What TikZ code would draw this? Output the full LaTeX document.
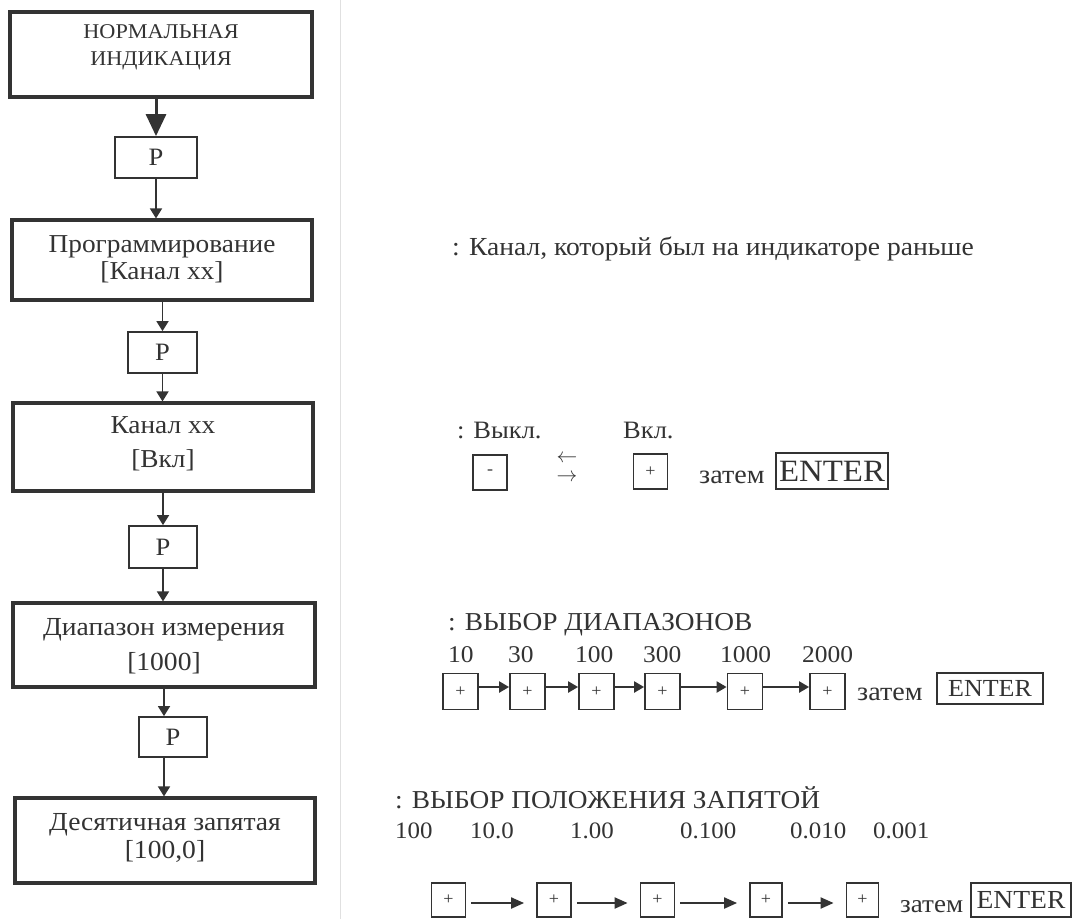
\documentclass[tikz,border=0pt]{standalone}
\usepackage{fontspec}
\setmainfont{Liberation Serif}[FakeStretch=1.06]
\usetikzlibrary{arrows.meta}
\definecolor{ink}{HTML}{333333}
\begin{document}
\begin{tikzpicture}[x=1pt,y=-1pt,
  bigbox/.style={draw=ink, line width=3.2pt, inner sep=0pt},
  pbox/.style={draw=ink, line width=1.8pt, inner sep=0pt, font=\fontsize{25}{30}\selectfont, text=ink},
  txt/.style={text=ink, inner sep=0pt, align=center},
  rtxt/.style={text=ink, inner sep=0pt, anchor=base west},
  arr/.style={draw=ink, line width=1.8pt, -{Triangle[length=10pt,width=12pt]}},
  bigarr/.style={draw=ink, line width=3pt, -{Triangle[length=22pt,width=20pt]}},
  key/.style={draw=ink, line width=1.8pt, inner sep=0pt, minimum width=35pt, minimum height=36pt, font=\fontsize{17}{20}\selectfont, text=ink},
  entbox/.style={draw=ink, line width=1.6pt, inner sep=0pt, text=ink},
  harr/.style={draw=ink, line width=2.2pt, -{Triangle[length=10pt,width=11pt]}},
  darr/.style={draw=ink, line width=2pt, shorten <=5pt, shorten >=12pt, -{Triangle[length=13pt,width=11pt]}},
]
\useasboundingbox[fill=white] (0,0) rectangle (1073,919);
\draw[black!12, line width=1pt] (340,0) -- (340,919);

% left column
\node[bigbox, minimum width=302pt, minimum height=85pt] (n1) at (161,54.5) {};
\node[txt, anchor=base, font=\fontsize{21}{27}\selectfont] (t1) at (161,65) {НОРМАЛЬНАЯ\\ИНДИКАЦИЯ};
\node[pbox, minimum width=82pt, minimum height=41pt] (p1) at (156,157.5) {P};
\node[bigbox, minimum width=300pt, minimum height=80pt] (n2) at (162,260) {};
\node[txt, anchor=base, font=\fontsize{25.8}{27}\selectfont] (t2) at (162,279) {Программирование\\{[Канал xx]}};
\node[pbox, minimum width=69pt, minimum height=41pt] (p2) at (162.5,352.5) {P};
\node[bigbox, minimum width=300pt, minimum height=88pt] (n3) at (163,447) {};
\node[txt, anchor=base, font=\fontsize{25.8}{34}\selectfont] (t3) at (163,467) {Канал xx\\{[Вкл]}};
\node[pbox, minimum width=68pt, minimum height=42pt] (p3) at (163,547) {P};
\node[bigbox, minimum width=302pt, minimum height=84pt] (n4) at (164,645) {};
\node[txt, anchor=base, font=\fontsize{26}{35}\selectfont] (t4) at (164,670) {Диапазон измерения\\{[1000]}};
\node[pbox, minimum width=68pt, minimum height=40pt] (p4) at (173,737) {P};
\node[bigbox, minimum width=300pt, minimum height=85pt] (n5) at (165,840.5) {};
\node[txt, anchor=base, font=\fontsize{26}{28}\selectfont] (t5) at (165,858) {Десятичная запятая\\{[100,0]}};

\draw[bigarr] (n1.south -| p1.north) -- (p1.north);
\draw[arr] (p1.south) -- (p1.south |- n2.north);
\draw[arr] (n2.south -| p2.north) -- (p2.north);
\draw[arr] (p2.south) -- (p2.south |- n3.north);
\draw[arr] (n3.south -| p3.north) -- (p3.north);
\draw[arr] (p3.south) -- (p3.south |- n4.north);
\draw[arr] (n4.south) -- (n4.south |- p4.north);
\draw[arr] (p4.south -| n4.south) -- (n5.north -| n4.south);

% channel note
\node[rtxt, font=\fontsize{26}{30}\selectfont] (r1) at (452,255) {: Канал, который был на индикаторе раньше};

% on/off
\node[rtxt, font=\fontsize{25}{25}\selectfont] (off) at (457,438) {: Выкл.};
\node[rtxt, font=\fontsize{25}{25}\selectfont] (on) at (623,438) {Вкл.};
\node[key, minimum width=34pt, minimum height=35pt] (km) at (490,472.5) {-};
\node[key, minimum width=34pt, minimum height=35pt] (kp) at (650.5,471.5) {+};
\node[txt, font=\fontsize{21}{19}\selectfont] (lr) at (567,468) {$\leftarrow$\\$\rightarrow$};
\node[rtxt, font=\fontsize{26.5}{25}\selectfont] (then1) at (699,483) {затем};
\node[entbox, minimum width=112pt, minimum height=36pt, font=\fontsize{31}{30}\selectfont] (e1) at (832,471) {ENTER};

% ranges
\node[rtxt, font=\fontsize{25.8}{30}\selectfont] (h3) at (448,630) {: ВЫБОР ДИАПАЗОНОВ};
\begin{scope}[every node/.append style={rtxt, font=\fontsize{24}{30}\selectfont}]
\node (v1) at (448,662) {10};
\node (v2) at (508,662) {30};
\node (v3) at (575,662) {100};
\node (v4) at (643,662) {300};
\node (v5) at (720,662) {1000};
\node (v6) at (802,662) {2000};
\end{scope}
\node[key] (a1) at (460.5,691.5) {+};
\node[key] (a2) at (527.5,691.5) {+};
\node[key] (a3) at (596.5,691.5) {+};
\node[key] (a4) at (662.5,691.5) {+};
\node[key] (a5) at (745,691.5) {+};
\node[key] (a6) at (827.5,691.5) {+};
\foreach \i/\j in {a1/a2,a2/a3,a3/a4,a4/a5,a5/a6}
  \draw[harr] ([yshift=4.5pt]\i.east) -- ([yshift=4.5pt]\j.west);
\node[rtxt, font=\fontsize{26.5}{30}\selectfont] (then2) at (857,700) {затем};
\node[entbox, minimum width=106pt, minimum height=31pt, font=\fontsize{24.5}{30}\selectfont] (e2) at (990,688.5) {ENTER};

% decimal point
\node[rtxt, font=\fontsize{25.8}{30}\selectfont] (h4) at (395,808) {: ВЫБОР ПОЛОЖЕНИЯ ЗАПЯТОЙ};
\begin{scope}[every node/.append style={rtxt, font=\fontsize{23.5}{30}\selectfont}]
\node (d1) at (395,838) {100};
\node (d2) at (470,838) {10.0};
\node (d3) at (570,838) {1.00};
\node (d4) at (680,838) {0.100};
\node (d5) at (790,838) {0.010};
\node (d6) at (873,838) {0.001};
\end{scope}
\node[key, minimum width=34pt, minimum height=34pt] (b1) at (448.5,900) {+};
\node[key, minimum width=34pt, minimum height=34pt] (b2) at (554,900) {+};
\node[key, minimum width=34pt, minimum height=34pt] (b3) at (657.5,900) {+};
\node[key, minimum width=32pt, minimum height=34pt] (b4) at (766,900) {+};
\node[key, minimum width=32pt, minimum height=34pt] (b5) at (862.5,900) {+};
\foreach \i/\j in {b1/b2,b2/b3,b3/b4,b4/b5}
  \draw[darr] ([yshift=-3pt]\i.east) -- ([yshift=-3pt]\j.west);
\node[rtxt, font=\fontsize{25.5}{30}\selectfont] (then3) at (900,912) {затем};
\node[entbox, minimum width=100pt, minimum height=34pt, font=\fontsize{26}{30}\selectfont] (e3) at (1021,900) {ENTER};
\end{tikzpicture}
\end{document}
